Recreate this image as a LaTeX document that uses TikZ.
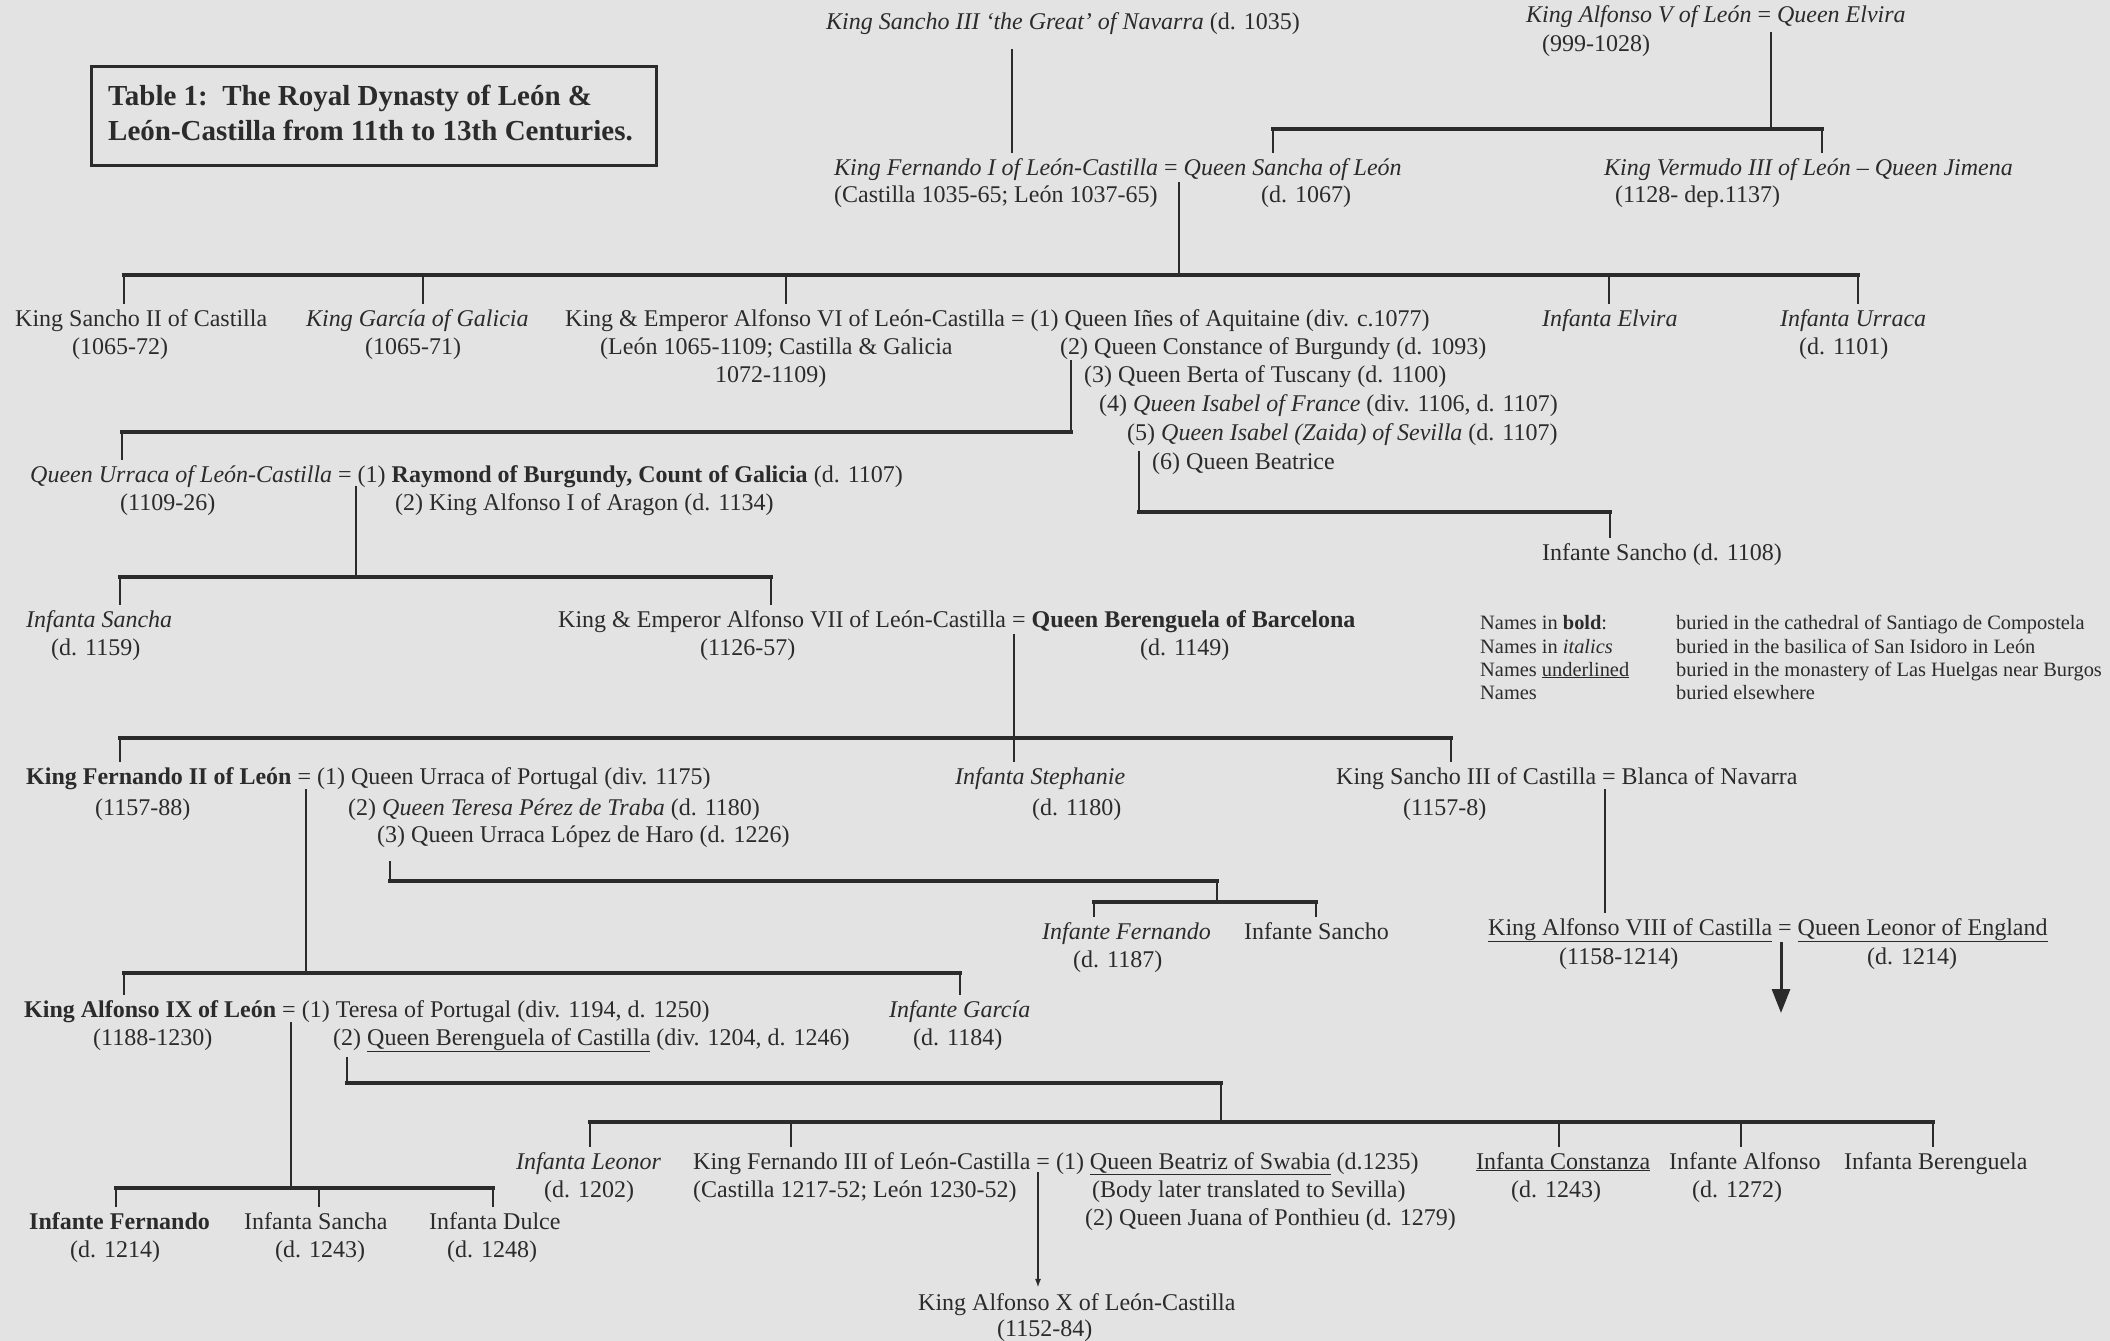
\documentclass[tikz,border=0pt]{standalone}
\usepackage{fontspec}
\setmainfont{Liberation Serif}
\usetikzlibrary{arrows.meta}
\definecolor{paper}{HTML}{E3E3E3}
\definecolor{ink}{HTML}{2B2B2B}

\begin{document}
\begin{tikzpicture}[x=1pt, y=-1pt,
  nm/.style={anchor=base west, inner xsep=0pt, inner ysep=5pt, text=ink, font=\fontsize{24}{28}\selectfont},
  key/.style={nm, font=\fontsize{20.4}{23}\selectfont},
  hd/.style={nm, font=\bfseries\fontsize{29}{34}\selectfont},
  kin/.style={draw=ink, line width=2.2pt},
  bar/.style={draw=ink, line width=3.6pt, line cap=rect}]
\fill[paper] (0,0) rectangle (2110,1341);
\useasboundingbox (0,0) rectangle (2110,1341);

\draw[ink, line width=3pt] (91,66) rectangle (656,165);
\node[hd] (title1) at (108,105) {Table 1:\ \ The Royal Dynasty of León \&};
\node[hd] (title2) at (108,140) {León-Castilla from 11th to 13th Centuries.};

% 11th century
\node[nm] (sancho3) at (826,29) {\textit{King Sancho III `the Great' of Navarra} (d. 1035)};
\node[nm] (alf5) at (1526,23) {\textit{King Alfonso V of León} = \textit{Queen Elvira}};
\node[nm] (alf5d) at (1542,51) {(999-1028)};
\node[nm] (fer1) at (834,175) {\textit{King Fernando I of León-Castilla} = \textit{Queen Sancha of León}};
\node[nm] (fer1d) at (834,202) {(Castilla 1035-65; León 1037-65)};
\node[nm] (sanchad) at (1261,202) {(d. 1067)};
\node[nm] (verm) at (1604,175) {\textit{King Vermudo III of León – Queen Jimena}};
\node[nm] (vermd) at (1615,202) {(1128- dep.1137)};

\coordinate (s3) at (1012,49);
\coordinate (a5) at (1771,32);
\coordinate (b1) at (1273,129);
\coordinate (b1r) at (1822,129);
\draw[kin] (s3) -- (s3 |- fer1.north);
\draw[kin] (a5) -- (a5 |- b1);
\draw[bar] (b1) -- (b1r);
\draw[kin] (b1) -- (b1 |- fer1.north);
\draw[kin] (b1r) -- (b1r |- verm.north);

% children of Fernando I
\node[nm] (sancho2) at (15,326) {King Sancho II of Castilla};
\node[nm] (sancho2d) at (72,354) {(1065-72)};
\node[nm] (garcia) at (306,326) {\textit{King García of Galicia}};
\node[nm] (garciad) at (365,354) {(1065-71)};
\node[nm] (alf6) at (565,326) {King \& Emperor Alfonso VI of León-Castilla = (1) Queen Iñes of Aquitaine (div. c.1077)};
\node[nm] (alf6d) at (600,354) {(León 1065-1109; Castilla \& Galicia};
\node[nm] (alf6e) at (715,382) {1072-1109)};
\node[nm] (alf6w2) at (1060,354) {(2) Queen Constance of Burgundy (d. 1093)};
\node[nm] (alf6w3) at (1084,382) {(3) Queen Berta of Tuscany (d. 1100)};
\node[nm] (alf6w4) at (1099,411) {(4) \textit{Queen Isabel of France} (div. 1106, d. 1107)};
\node[nm] (alf6w5) at (1127,440) {(5) \textit{Queen Isabel (Zaida) of Sevilla} (d. 1107)};
\node[nm] (alf6w6) at (1152,469) {(6) Queen Beatrice};
\node[nm] (elvira) at (1542,326) {\textit{Infanta Elvira}};
\node[nm] (urraca) at (1780,326) {\textit{Infanta Urraca}};
\node[nm] (urracad) at (1799,354) {(d. 1101)};

\coordinate (f1) at (1179,182);
\coordinate (b2) at (124,275);
\coordinate (b2r) at (1858,275);
\draw[kin] (f1) -- (f1 |- b2);
\draw[bar] (b2) -- (b2r);
\foreach \x/\kid in {124/sancho2, 423/garcia, 786/alf6, 1609/elvira, 1858/urraca}
  {\coordinate (d) at (\x,275); \draw[kin] (d) -- (d |- \kid.north);}

% Alfonso VI
\node[nm] (urr) at (30,482) {\textit{Queen Urraca of León-Castilla} = (1) \textbf{Raymond of Burgundy, Count of Galicia} (d. 1107)};
\node[nm] (urrd) at (120,510) {(1109-26)};
\node[nm] (urrw2) at (395,510) {(2) King Alfonso I of Aragon (d. 1134)};
\node[nm] (sanchoI) at (1542,560) {Infante Sancho (d. 1108)};

\coordinate (w2) at (1071,360);
\coordinate (b3) at (122,432);
\draw[kin] (w2) -- (w2 |- b3);
\draw[bar] (w2 |- b3) -- (b3);
\draw[kin] (b3) -- (b3 |- urr.north);
\coordinate (w6) at (1139,451);
\coordinate (b4) at (1610,512);
\draw[kin] (w6) -- (w6 |- b4);
\draw[bar] (w6 |- b4) -- (b4);
\draw[kin] (b4) -- (b4 |- sanchoI.north);

% Urraca
\node[nm] (sanchaB) at (26,627) {\textit{Infanta Sancha}};
\node[nm] (sanchaBd) at (51,655) {(d. 1159)};
\node[nm] (alf7) at (558,627) {King \& Emperor Alfonso VII of León-Castilla = \textbf{Queen Berenguela of Barcelona}};
\node[nm] (alf7d) at (700,655) {(1126-57)};
\node[nm] (berd) at (1140,655) {(d. 1149)};

\coordinate (u1) at (356,486);
\coordinate (b5) at (120,577);
\coordinate (b5r) at (771,577);
\draw[kin] (u1) -- (u1 |- b5);
\draw[bar] (b5) -- (b5r);
\draw[kin] (b5) -- (b5 |- sanchaB.north);
\draw[kin] (b5r) -- (b5r |- alf7.north);

\node[key] (k1) at (1480,629) {Names in \textbf{bold}:};
\node[key] (k1t) at (1676,629) {buried in the cathedral of Santiago de Compostela};
\node[key] (k2) at (1480,653) {Names in \textit{italics}};
\node[key] (k2t) at (1676,653) {buried in the basilica of San Isidoro in León};
\node[key] (k3) at (1480,676) {Names \underline{underlined}};
\node[key] (k3t) at (1676,676) {buried in the monastery of Las Huelgas near Burgos};
\node[key] (k4) at (1480,699) {Names};
\node[key] (k4t) at (1676,699) {buried elsewhere};

% Alfonso VII
\node[nm] (fer2) at (26,784) {\textbf{King Fernando II of León} = (1) Queen Urraca of Portugal (div. 1175)};
\node[nm] (fer2d) at (95,815) {(1157-88)};
\node[nm] (fer2w2) at (348,815) {(2) \textit{Queen Teresa Pérez de Traba} (d. 1180)};
\node[nm] (fer2w3) at (377,842) {(3) Queen Urraca López de Haro (d. 1226)};
\node[nm] (steph) at (955,784) {\textit{Infanta Stephanie}};
\node[nm] (stephd) at (1032,815) {(d. 1180)};
\node[nm] (sancho3c) at (1336,784) {King Sancho III of Castilla = Blanca of Navarra};
\node[nm] (sancho3cd) at (1403,815) {(1157-8)};

\coordinate (a7) at (1014,634);
\coordinate (b6) at (120,738);
\coordinate (b6r) at (1451,738);
\draw[kin] (a7) -- (a7 |- steph.north);
\draw[bar] (b6) -- (b6r);
\draw[kin] (b6) -- (b6 |- fer2.north);
\draw[kin] (b6r) -- (b6r |- sancho3c.north);

% Fernando II and Sancho III
\node[nm] (ferI) at (1042,939) {\textit{Infante Fernando}};
\node[nm] (ferId) at (1073,967) {(d. 1187)};
\node[nm] (sanchoI2) at (1244,939) {Infante Sancho};
\node[nm] (alf8) at (1488,935) {\underline{King Alfonso VIII of Castilla} = \underline{Queen Leonor of England}};
\node[nm] (alf8d) at (1559,964) {(1158-1214)};
\node[nm] (leonord) at (1867,964) {(d. 1214)};
\node[nm] (alf9) at (24,1017) {\textbf{King Alfonso IX of León} = (1) Teresa of Portugal (div. 1194, d. 1250)};
\node[nm] (alf9d) at (93,1045) {(1188-1230)};
\node[nm] (alf9w2) at (333,1045) {(2) \underline{Queen Berenguela of Castilla} (div. 1204, d. 1246)};
\node[nm] (garciaI) at (889,1017) {\textit{Infante García}};
\node[nm] (garciaId) at (913,1045) {(d. 1184)};

\coordinate (f2) at (306,789);
\coordinate (b7) at (124,973);
\coordinate (b7r) at (960,973);
\draw[kin] (f2) -- (f2 |- b7);
\draw[bar] (b7) -- (b7r);
\draw[kin] (b7) -- (b7 |- alf9.north);
\draw[kin] (b7r) -- (b7r |- garciaI.north);
\coordinate (f2w3) at (390,861);
\coordinate (b8t) at (1217,881);
\coordinate (b8) at (1094,902);
\coordinate (b8r) at (1316,902);
\draw[kin] (f2w3) -- (f2w3 |- b8t);
\draw[bar] (f2w3 |- b8t) -- (b8t);
\draw[kin] (b8t) -- (b8t |- b8);
\draw[bar] (b8) -- (b8r);
\draw[kin] (b8) -- (b8 |- ferI.north);
\draw[kin] (b8r) -- (b8r |- sanchoI2.north);
\coordinate (s3c) at (1605,789);
\draw[kin] (s3c) -- (s3c |- alf8.north);
\coordinate (a8) at (1781,942);
\coordinate (a8e) at (1781,1013);
\draw[ink, line width=3pt, -{Triangle[width=18pt,length=24pt]}] (a8) -- (a8e);

% Alfonso IX
\node[nm] (leonor) at (516,1169) {\textit{Infanta Leonor}};
\node[nm] (leonord2) at (544,1197) {(d. 1202)};
\node[nm] (fer3) at (693,1169) {King Fernando III of León-Castilla = (1) \underline{Queen Beatriz of Swabia} (d.1235)};
\node[nm] (fer3d) at (693,1197) {(Castilla 1217-52; León 1230-52)};
\node[nm] (fer3n) at (1092,1197) {(Body later translated to Sevilla)};
\node[nm] (fer3w2) at (1085,1225) {(2) Queen Juana of Ponthieu (d. 1279)};
\node[nm] (constanza) at (1476,1169) {\underline{Infanta Constanza}};
\node[nm] (constanzad) at (1511,1197) {(d. 1243)};
\node[nm] (alfonsoI) at (1669,1169) {Infante Alfonso};
\node[nm] (alfonsoId) at (1692,1197) {(d. 1272)};
\node[nm] (berengI) at (1844,1169) {Infanta Berenguela};
\node[nm] (ferB) at (29,1229) {\textbf{Infante Fernando}};
\node[nm] (ferBd) at (70,1257) {(d. 1214)};
\node[nm] (sanchaC) at (244,1229) {Infanta Sancha};
\node[nm] (sanchaCd) at (275,1257) {(d. 1243)};
\node[nm] (dulce) at (429,1229) {Infanta Dulce};
\node[nm] (dulced) at (447,1257) {(d. 1248)};
\node[nm] (alf10) at (918,1310) {King Alfonso X of León-Castilla};
\node[nm] (alf10d) at (997,1336) {(1152-84)};

\coordinate (a9) at (291,1022);
\coordinate (b9) at (116,1188);
\coordinate (b9r) at (493,1188);
\draw[kin] (a9) -- (a9 |- b9);
\draw[bar] (b9) -- (b9r);
\foreach \x/\kid in {116/ferB, 319/sanchaC, 493/dulce}
  {\coordinate (d) at (\x,1188); \draw[kin] (d) -- (d |- \kid.north);}
\coordinate (a9w2) at (347,1057);
\coordinate (b10t) at (1221,1083);
\coordinate (b10) at (590,1122);
\coordinate (b10r) at (1933,1122);
\draw[kin] (a9w2) -- (a9w2 |- b10t);
\draw[bar] (a9w2 |- b10t) -- (b10t);
\draw[kin] (b10t) -- (b10t |- b10);
\draw[bar] (b10) -- (b10r);
\foreach \x/\kid in {590/leonor, 791/fer3, 1559/constanza, 1741/alfonsoI, 1933/berengI}
  {\coordinate (d) at (\x,1122); \draw[kin] (d) -- (d |- \kid.north);}
\coordinate (f3) at (1038,1172);
\draw[kin, -{Latex[length=9pt,width=6pt]}] (f3) -- (f3 |- alf10.north);
\end{tikzpicture}
\end{document}
